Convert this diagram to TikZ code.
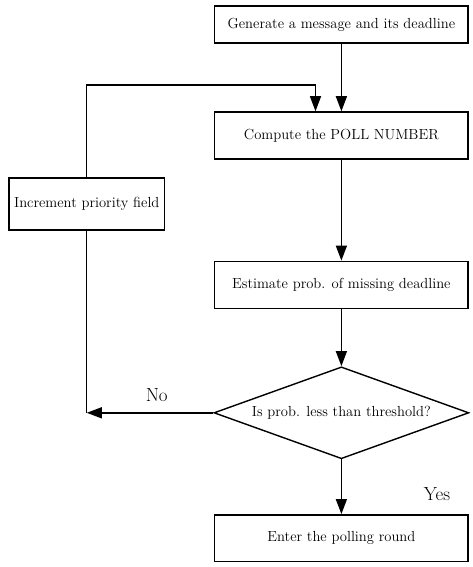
\documentclass[tikz,border=0pt]{standalone}
\usepackage{tikz}
\usetikzlibrary{positioning}
\usetikzlibrary{shapes.geometric}
\usetikzlibrary{arrows.meta}

\begin{document}
\begin{tikzpicture}[font=\fontsize{14.6}{17}\selectfont,
    process/.style={draw, line width=1.4pt, minimum width=8.9cm, minimum height=1.65cm},
    decision/.style={draw, line width=1.4pt, diamond, aspect=2.8, inner sep=0pt, minimum width=8.96cm, minimum height=3.23cm},
    branch_label/.style={font=\fontsize{19}{22}\selectfont},
    line_plain/.style={line width=1.4pt},
    arrow_exp/.style={-{Triangle[length=15pt, width=11pt]}, line width=1.4pt},
]
\useasboundingbox (-12.0,0.86) rectangle (4.62,-19.07);

\node[process, minimum height=1.3cm] (gen) {Generate a message and its deadline};
\node[process, below of=gen, yshift=-2.9cm] (comp) {Compute the POLL NUMBER};
\node[process, below of=comp, yshift=-4.25cm] (est) {Estimate prob. of missing deadline};
\node[decision, below of=est, yshift=-3.5cm] (dec) {Is prob. less than threshold?};
\node[process, below of=dec, yshift=-3.41cm] (enter) {Enter the polling round};

\node[process, left of=comp, xshift=-7.95cm, yshift=-2.41cm, minimum width=5.48cm, minimum height=1.84cm] (inc) {Increment priority field};

\node[branch_label, left of=dec, xshift=-5.49cm, yshift=0.63cm] (no) {No};
\node[branch_label, right of=enter, xshift=2.36cm, yshift=1.57cm] (yes) {Yes};

\draw[arrow_exp] (gen) -- (comp);
\draw[arrow_exp] (comp) -- (est);
\draw[arrow_exp] (est) -- (dec);
\draw[arrow_exp] (dec) -- (enter);

% feedback loop
\coordinate[above of=comp, xshift=-0.91cm, yshift=0.77cm] (above_of_comp);
\coordinate (left_of_dec) at (dec.west -| inc.south);

\draw[arrow_exp] (dec.west) -- (left_of_dec);
\draw[line_plain] (left_of_dec) -- (inc.south);
\draw[arrow_exp] (inc.north) |- (above_of_comp) -- (above_of_comp |- comp.north);

\end{tikzpicture}
\end{document}
